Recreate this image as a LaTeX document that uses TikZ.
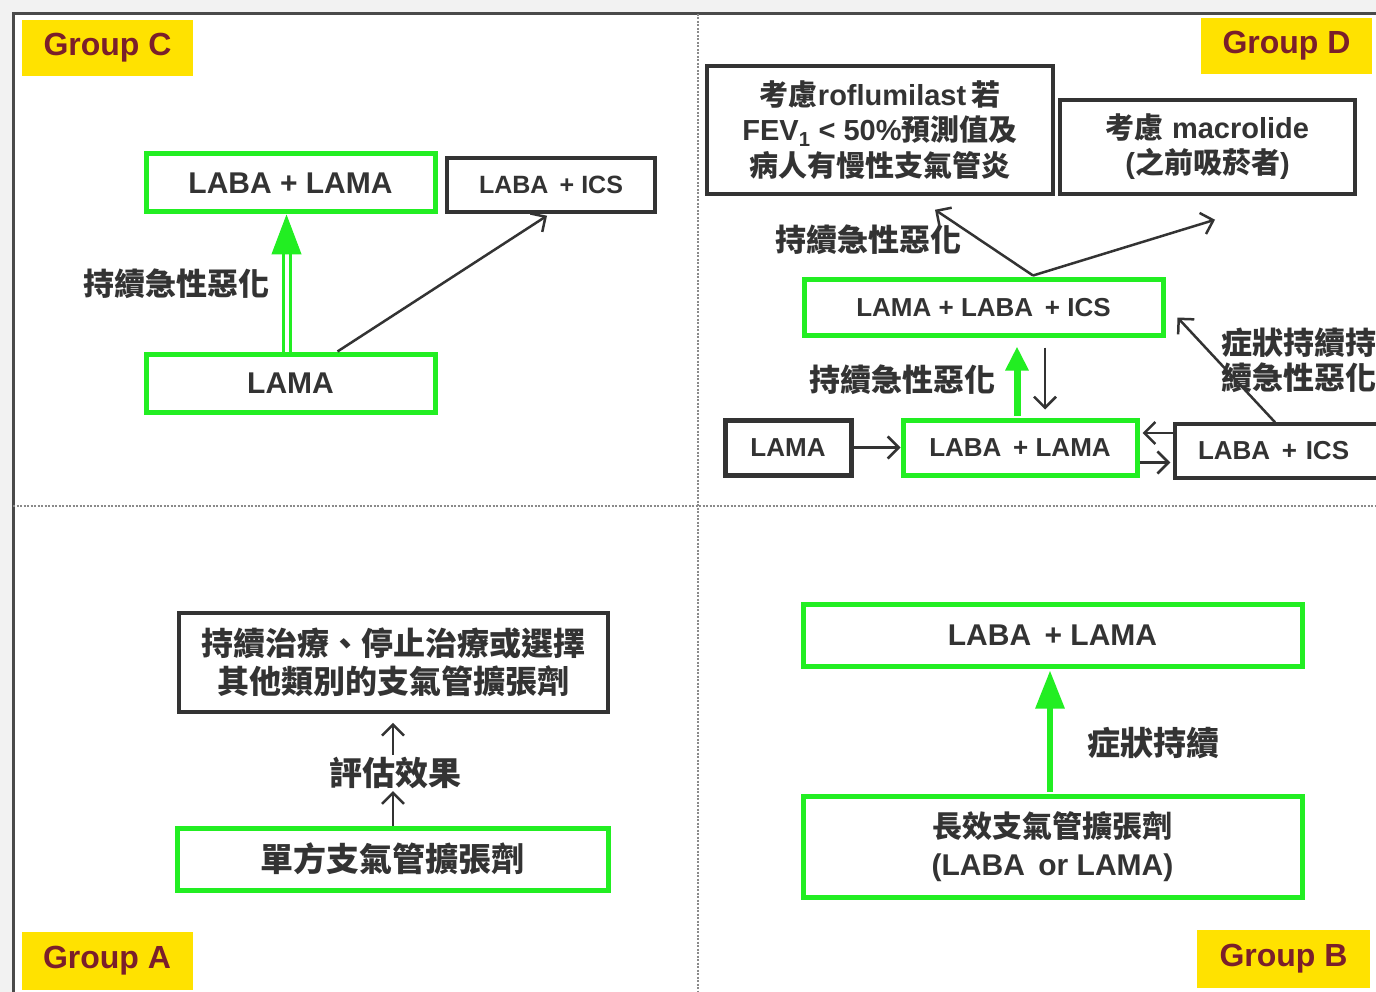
\documentclass[tikz,border=0pt]{standalone}
\usepackage{fontspec}
\setmainfont{Liberation Sans}
\newfontfamily\cjk{Noto Sans CJK TC}
\usetikzlibrary{arrows.meta,calc}
\definecolor{gbright}{HTML}{22EE22}
\definecolor{txt}{HTML}{333333}
\definecolor{ylw}{HTML}{FFE200}
\definecolor{grpred}{HTML}{7A1F2B}
\definecolor{framegray}{HTML}{4A4A4A}
\definecolor{bggray}{HTML}{F2F2F2}
\definecolor{divgray}{HTML}{8A8A8A}
\newcommand{\wsp}{\hspace{0.45em}}
\begin{document}
\begin{tikzpicture}[x=1pt,y=-1pt,
  bbox/.style={draw=txt, line width=3.5pt, fill=white, inner sep=0pt, text=txt, align=center,
    font=\bfseries\fontsize{26}{32}\selectfont},
  gbox/.style={bbox, draw=gbright, line width=5pt},
  lbl/.style={inner sep=0pt, text=txt, align=center, font=\cjk\bfseries\fontsize{31}{35}\selectfont},
  grp/.style={fill=ylw, text=grpred, inner sep=0pt, minimum width=171pt, minimum height=56pt,
    font=\bfseries\fontsize{32}{36}\selectfont},
  arr/.style={draw=txt, line width=2.5pt, -{Straight Barb[length=11pt,width=22pt]}},
  gtip/.style={draw=gbright, fill=gbright, line width=1pt}
]
\useasboundingbox (0,0) rectangle (1376,992);
\begin{scope}
\clip (0,0) rectangle (1376,992);
% background and frame
\fill[bggray] (0,0) rectangle (1376,992);
\fill[white] (13,14) rectangle (1380,996);
\draw[framegray, line width=3pt] (13,996) -- (13,14) -- (1380,14);
\draw[divgray, line width=1.5pt, dash pattern=on 2pt off 1.5pt] (698,14) -- (698,996);
\draw[divgray, line width=1.5pt, dash pattern=on 2pt off 1.5pt] (13,506) -- (1380,506);

% group labels
\node[grp] (gC) at (107.5,48) {Group C};
\node[grp] (gD) at (1286.5,46) {Group D};
\node[grp, minimum height=58pt] (gA) at (107,961) {Group A};
\node[grp, minimum width=173pt, minimum height=58pt] (gB) at (1283.5,959) {Group B};

% ---------- Group C ----------
\node[gbox, minimum width=289pt, minimum height=58pt, font=\bfseries\fontsize{30}{36}\selectfont] (labalamaC) at (290.5,183) {LABA + LAMA};
\node[bbox, minimum width=208pt, minimum height=54pt, font=\bfseries\fontsize{25}{32}\selectfont] (labaicsC) at (551,185) {LABA\wsp+ ICS};
\node[gbox, minimum width=289pt, minimum height=58pt, font=\bfseries\fontsize{30}{36}\selectfont] (lamaC) at (290.5,383) {LAMA};
\node[lbl] (exC) at (176,284) {持續急性惡化};
\draw[gbright, line width=3pt, double=white, double distance=4pt, shorten >=38pt] ([xshift=-4pt]lamaC.north) -- ([xshift=-4pt]labalamaC.south);
\draw[gtip, shorten <=102pt, -{Triangle[length=40pt,width=30pt]}] ([xshift=-4pt]lamaC.north) -- ([xshift=-4pt]labalamaC.south);
\draw[arr] ([xshift=47pt]lamaC.north) -- ([xshift=-4pt,yshift=-2pt]labaicsC.south);

% ---------- Group D ----------
\node[bbox, minimum width=346pt, minimum height=128pt, font=\bfseries\fontsize{29}{35.5}\selectfont] (roflu) at (880,130)
  {{\cjk 考慮}roflumilast\,{\cjk 若}\\FEV\textsubscript{1} < 50\%{\cjk 預測值及}\\{\cjk 病人有慢性支氣管炎}};
\node[bbox, minimum width=295pt, minimum height=94pt, font=\bfseries\fontsize{29}{35}\selectfont] (macro) at (1207.5,147)
  {{\cjk 考慮} macrolide\\({\cjk 之前吸菸者})};
\node[gbox, minimum width=359pt, minimum height=55pt] (tripleD) at (983.5,307.5) {LAMA + LABA\wsp+ ICS};
\node[bbox, line width=5pt, minimum width=126pt, minimum height=55pt] (lamaD) at (788,447.5) {LAMA};
\node[gbox, minimum width=234pt, minimum height=55pt] (labalamaD) at (1020,447.5) {LABA\wsp+ LAMA};
\node[bbox, minimum width=210pt, minimum height=54pt, text width=206pt, align=left] (labaicsD) at (1280,451) {\hspace*{21pt}LABA\wsp+ ICS};
\node[lbl] (exD1) at (868,240) {持續急性惡化};
\node[lbl] (exD2) at (902,380) {持續急性惡化};
\node[lbl, anchor=west, align=left] (symD) at (1221,360) {症狀持續持\\續急性惡化};
\coordinate (fork) at ([xshift=49.5pt,yshift=2pt]tripleD.north);
\draw[arr] (fork) -- ([xshift=55pt,yshift=-14pt]roflu.south);
\draw[arr] (fork) -- ([xshift=7.5pt,yshift=-24pt]macro.south);
\draw[arr] (lamaD.east) -- (labalamaD.west);
\draw[arr, shorten >=3pt] ([yshift=18pt]labaicsD.west) -- ([yshift=18pt]labaicsD.west -| labalamaD.east);
\draw[arr, shorten >=3pt] ([yshift=-15pt]labalamaD.east) -- ([yshift=-15pt]labalamaD.east -| labaicsD.west);
\draw[arr] ([xshift=-5pt]labaicsD.north) -- ([xshift=12pt,yshift=-10pt]tripleD.east);
\draw[gbright, line width=7pt, shorten <=2pt, shorten >=9pt, -{Triangle[length=24pt,width=22pt]}] ([xshift=-3pt]labalamaD.north) -- ([xshift=-3pt]labalamaD.north |- tripleD.south);
\draw[arr, shorten <=10pt, shorten >=8pt] ([xshift=25pt]labalamaD.north |- tripleD.south) -- ([xshift=25pt]labalamaD.north);

% ---------- Group A ----------
\node[bbox, minimum width=429pt, minimum height=99pt, font=\cjk\bfseries\fontsize{32}{38}\selectfont] (boxA) at (393.5,662.5)
  {持續治療、停止治療或選擇\\其他類別的支氣管擴張劑};
\node[lbl, font=\cjk\bfseries\fontsize{33}{38}\selectfont, inner ysep=2pt] (evalA) at (395,773) {評估效果};
\node[gbox, minimum width=431pt, minimum height=62pt, font=\cjk\bfseries\fontsize{33}{38}\selectfont] (singleA) at (392.5,859) {單方支氣管擴張劑};
\draw[arr] ([xshift=0.5pt]singleA.north) -- ([xshift=-2pt]evalA.south);
\draw[arr, shorten >=9pt] ([xshift=-2pt]evalA.north) -- ([xshift=-2pt]evalA.north |- boxA.south);

% ---------- Group B ----------
\node[gbox, minimum width=499pt, minimum height=62pt, font=\bfseries\fontsize{30}{36}\selectfont] (labalamaB) at (1052.5,635) {LABA\wsp+ LAMA};
\node[gbox, minimum width=499pt, minimum height=101pt, font=\bfseries\fontsize{30}{38}\selectfont] (longB) at (1052.5,846.5)
  {{\cjk 長效支氣管擴張劑}\\(LABA\wsp or LAMA)};
\node[lbl, font=\cjk\bfseries\fontsize{33}{38}\selectfont] (symB) at (1153,743) {症狀持續};
\draw[gbright, line width=6pt, shorten <=2pt, shorten >=2pt, -{Triangle[length=38pt,width=28pt]}] ([xshift=-2.5pt]longB.north) -- ([xshift=-2.5pt]labalamaB.south);
\end{scope}
\end{tikzpicture}
\end{document}
